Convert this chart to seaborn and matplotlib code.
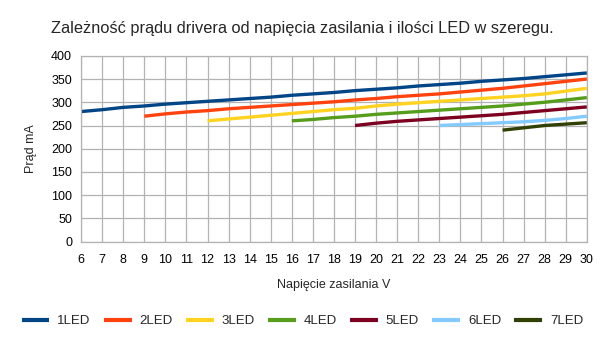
import numpy as np
import pandas as pd
import matplotlib
matplotlib.use("Agg")
import matplotlib.pyplot as plt
import seaborn as sns

# Driver current [mA] versus supply voltage [V] for 1..7 LEDs in series
v_1led = list(range(6, 31))
i_1led = [280, 284, 289, 292, 296, 299, 302, 305, 308, 311, 315, 318, 321,
          325, 328, 331, 335, 338, 341, 345, 348, 351, 355, 359, 363]

v_2led = list(range(9, 31))
i_2led = [270, 275, 279, 282, 286, 289, 292, 295, 298, 301, 305, 308, 312,
          315, 318, 322, 326, 330, 335, 340, 345, 350]

v_3led = list(range(12, 31))
i_3led = [260, 264, 268, 272, 276, 280, 284, 287, 292, 296, 299, 302, 305,
          308, 311, 314, 318, 324, 330]

v_4led = list(range(16, 31))
i_4led = [260, 263, 267, 270, 274, 277, 280, 283, 286, 289, 292, 296, 300,
          305, 310]

v_5led = list(range(19, 31))
i_5led = [250, 255, 259, 262, 265, 268, 271, 274, 278, 282, 286, 290]

v_6led = list(range(23, 31))
i_6led = [250, 252, 254, 256, 258, 261, 265, 270]

v_7led = list(range(26, 31))
i_7led = [240, 245, 250, 253, 256]

series_names = ["1LED", "2LED", "3LED", "4LED", "5LED", "6LED", "7LED"]
series_v = [v_1led, v_2led, v_3led, v_4led, v_5led, v_6led, v_7led]
series_i = [i_1led, i_2led, i_3led, i_4led, i_5led, i_6led, i_7led]
colors = ["#004586", "#ff420e", "#ffd320", "#579d1c", "#7e0021", "#83caff", "#314004"]

x_ticks = list(range(6, 31))
y_ticks = list(range(0, 401, 50))

frames = [pd.DataFrame({"V": v, "mA": i, "LED": name})
          for name, v, i in zip(series_names, series_v, series_i)]
df = pd.concat(frames, ignore_index=True)

sns.set_style("white")
plt.rcParams["font.family"] = ["Liberation Sans", "DejaVu Sans"]

fig = plt.figure(figsize=(6.05, 3.40), dpi=100)
ax = fig.add_axes([0.134, 0.289, 0.836, 0.547])

sns.lineplot(data=df, x="V", y="mA", hue="LED", hue_order=series_names,
             palette=colors, linewidth=2.4, ax=ax, legend=True,
             solid_capstyle="butt")

grid_c = "#b3b3b3"
ax.set_xlim(6, 30)
ax.set_ylim(0, 400)
ax.set_xticks(x_ticks)
ax.set_yticks(y_ticks)
ax.grid(True, color=grid_c, linewidth=0.9)
ax.set_axisbelow(True)
for s in ax.spines.values():
    s.set_color(grid_c)
    s.set_linewidth(0.9)
ax.tick_params(axis="both", direction="out", length=3.5, width=0.9,
               color=grid_c, labelsize=9, labelcolor="#000000", pad=3)
ax.tick_params(axis="x", pad=5)

ax.set_xlabel("Napięcie zasilania V", fontsize=9, labelpad=10)
ax.set_ylabel("Prąd mA", fontsize=9, labelpad=10)

fig.text(0.5, 1 - 28 / 340, "Zależność prądu drivera od napięcia zasilania i ilości LED w szeregu.",
         ha="center", va="center", fontsize=11.8)

handles, labels = ax.get_legend_handles_labels()
ax.get_legend().remove()
for h in handles:
    h.set_linewidth(3)
fig.legend(handles, labels, loc="center", bbox_to_anchor=(0.5, 1 - 321 / 340),
           ncol=7, frameon=False, fontsize=9.5, handlelength=2.1,
           handletextpad=0.6, columnspacing=1.0)

fig.savefig("out.png", dpi=100)
